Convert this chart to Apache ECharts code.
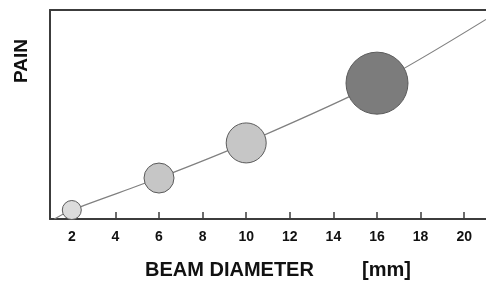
<!DOCTYPE html>
<html>
<head>
<meta charset="utf-8">
<script src="https://cdn.jsdelivr.net/npm/echarts@6/dist/echarts.min.js"></script>
<style>
  html, body { margin: 0; padding: 0; background: #fff; }
  #main { width: 486px; height: 285px; }
</style>
</head>
<body>
<div id="main"></div>
<script>
// bubbles
const beamDiameter = [2, 6, 10, 16]
const pain = [4.3, 19.6, 36.4, 65]
const bubbleSize = [19, 30, 40, 62]
const bubbleColor = ['#dcdcdc', '#c6c6c6', '#c6c6c6', '#7c7c7c']

// trend curve
const curveX = [1.2, 2, 6, 10, 16, 21]
const curveY = [0, 4.3, 19.6, 36.4, 65, 95.5]

const tickValues = [2, 4, 6, 8, 10, 12, 14, 16, 18, 20]

const chart = echarts.init(document.getElementById('main'), null, { renderer: 'canvas' })

const axisColor = '#3c3c3c'

var option = {
  animation: false,
  grid: {
    left: 50,
    top: 10,
    width: 440,
    height: 209
  },
  xAxis: [{
    type: 'value',
    min: 1,
    max: 21,
    axisLine: { show: true, lineStyle: { color: axisColor, width: 2 } },
    axisTick: {
      show: true,
      inside: true,
      length: 7,
      customValues: tickValues,
      lineStyle: { color: axisColor, width: 1.5 }
    },
    axisLabel: {
      customValues: tickValues,
      color: '#111',
      fontSize: 14,
      fontWeight: 'bold',
      fontFamily: 'Liberation Sans',
      margin: 11
    },
    splitLine: { show: false }
  }, {
    type: 'value',
    position: 'top',
    min: 1,
    max: 21,
    axisLine: { show: true, onZero: false, lineStyle: { color: axisColor, width: 2 } },
    axisTick: { show: false },
    axisLabel: { show: false },
    splitLine: { show: false }
  }],
  yAxis: {
    type: 'value',
    min: 0,
    max: 100,
    axisLine: { show: true, lineStyle: { color: axisColor, width: 2 } },
    axisTick: { show: false },
    axisLabel: { show: false },
    splitLine: { show: false }
  },
  series: [{
    type: 'line',
    data: curveX.map((x, i) => [x, curveY[i]]),
    smooth: 0.3,
    showSymbol: false,
    lineStyle: { color: '#808080', width: 1.2 },
    z: 1
  }, {
    type: 'scatter',
    data: beamDiameter.map((x, i) => ({
      value: [x, pain[i]],
      symbolSize: bubbleSize[i],
      itemStyle: { color: bubbleColor[i] }
    })),
    itemStyle: { borderColor: '#5a5a5a', borderWidth: 1, opacity: 1 },
    z: 3
  }],
  graphic: [{
    type: 'text',
    left: 145,
    top: 260,
    style: {
      text: 'BEAM DIAMETER',
      font: 'bold 20px "Liberation Sans", Arial, sans-serif',
      fill: '#111'
    }
  }, {
    type: 'text',
    left: 362,
    top: 260,
    style: {
      text: '[mm]',
      font: 'bold 20px "Liberation Sans", Arial, sans-serif',
      fill: '#111'
    }
  }, {
    type: 'text',
    x: 12,
    y: 83,
    rotation: Math.PI / 2,
    style: {
      text: 'PAIN',
      font: 'bold 19px "Liberation Sans", Arial, sans-serif',
      fill: '#111'
    }
  }]
}

chart.setOption(option)
</script>
</body>
</html>
